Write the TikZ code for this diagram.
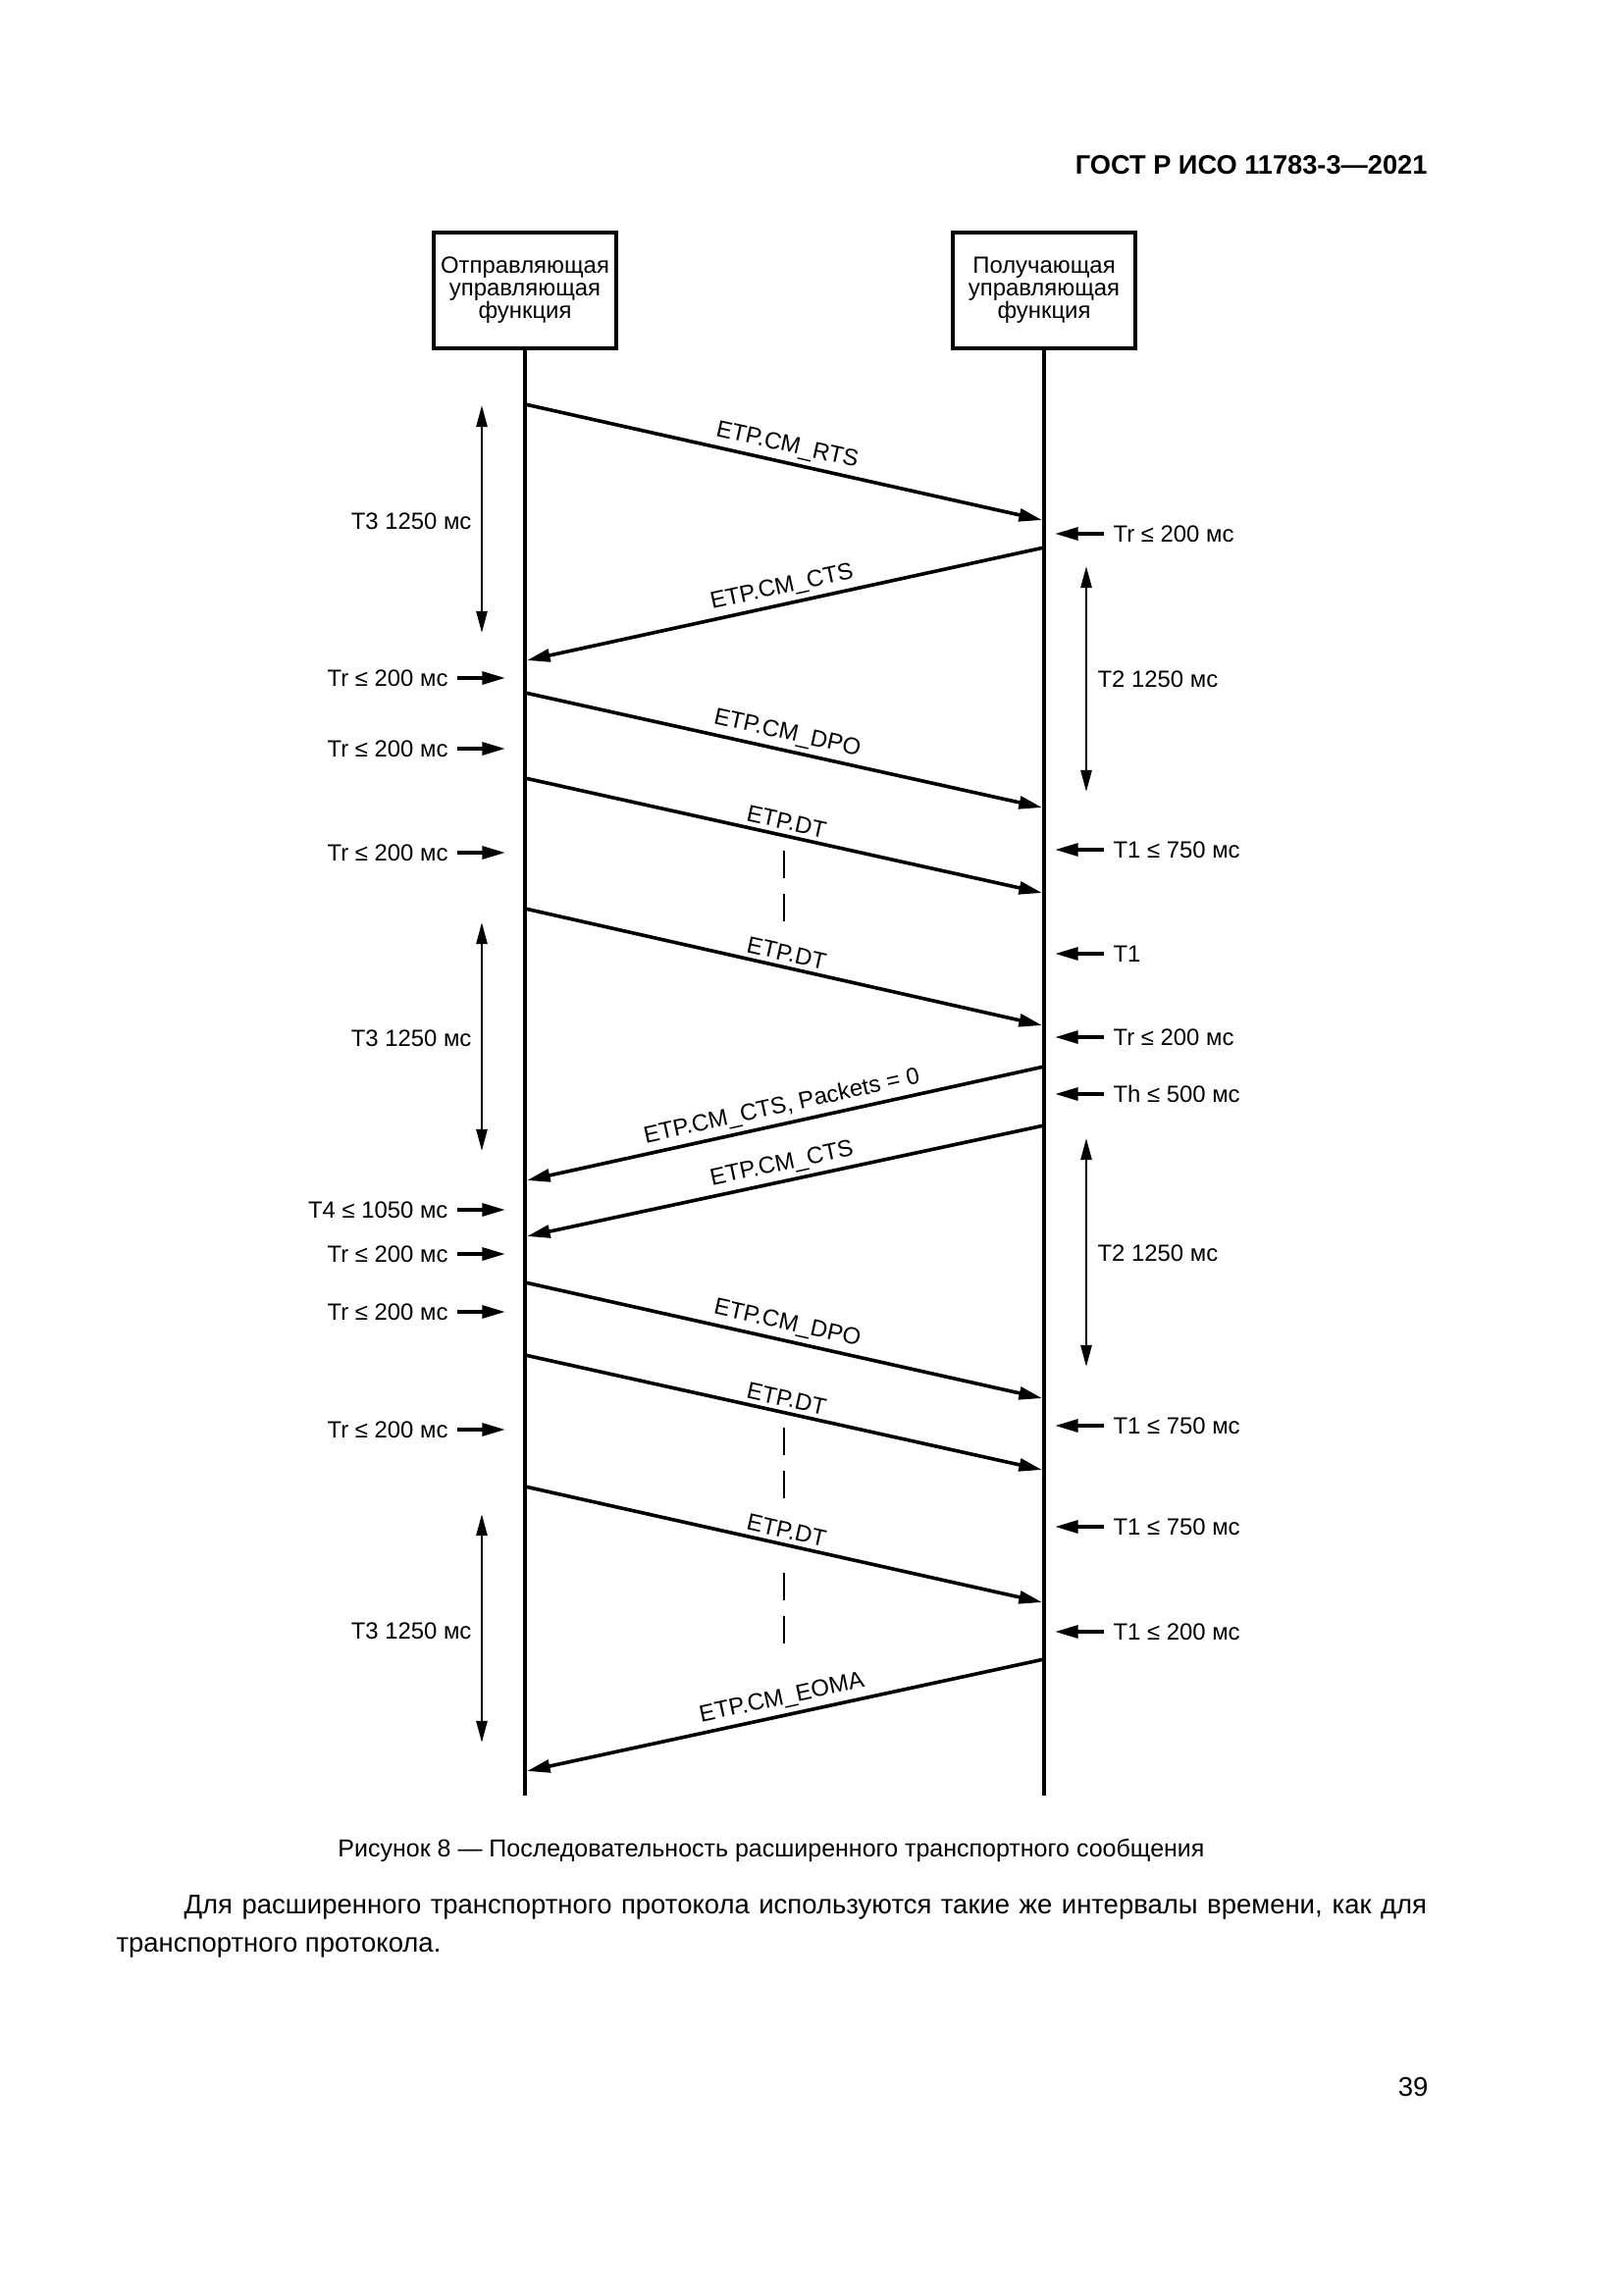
\documentclass[tikz,border=0pt]{standalone}
\usepackage{fontspec}
\setmainfont{Liberation Sans}
\usetikzlibrary{arrows.meta}
\begin{document}
\begin{tikzpicture}[x=0.36pt,y=-0.36pt,
  lifebox/.style={draw, line width=1.2pt, minimum width=67pt, minimum height=42.5pt,
    align=center, inner sep=0pt, font=\fontsize{8.6}{8.3}\selectfont},
  lifeline/.style={line width=1.1pt},
  msg/.style={line width=1.3pt, -{Triangle[length=8.5pt,width=4.6pt]}},
  mlab/.style={font=\fontsize{8.6}{10}\selectfont, sloped, above, inner sep=1.6pt},
  markarrow/.style={line width=1.3pt, -{Triangle[length=8.5pt,width=4.6pt]}},
  tlab/.style={font=\fontsize{8.6}{10}\selectfont, inner sep=0pt},
  spanarrow/.style={line width=0.9pt, {Triangle[length=8pt,width=4pt]}-{Triangle[length=8pt,width=4pt]}},
  dashline/.style={line width=1pt, dash pattern=on 10pt off 5.8pt}
]
\useasboundingbox[fill=white] (0,0) rectangle (1654,2339);

% page texts
\node[anchor=base east, inner sep=0pt, font=\bfseries\fontsize{9.8}{12}\selectfont] (hdr) at (1455,177) {ГОСТ Р ИСО 11783-3—2021};
\node[anchor=base, inner sep=0pt, font=\fontsize{9}{11}\selectfont] (cap) at (786,1892) {Рисунок 8 — Последовательность расширенного транспортного сообщения};
\node[anchor=base west, inner sep=0pt, font=\fontsize{9.9}{12}\selectfont] (body1) at (187,1950) {\makebox[456pt][s]{Для расширенного транспортного протокола используются такие же интервалы времени, как для}};
\node[anchor=base west, inner sep=0pt, font=\fontsize{9.9}{12}\selectfont] (body2) at (118,1989) {транспортного протокола.};
\node[anchor=base east, inner sep=0pt, font=\fontsize{9.9}{12}\selectfont] (pg) at (1456,2136) {39};

% boxes and lifelines
\node[lifebox] (snd) at (535,296) {Отправляющая\\управляющая\\функция};
\node[lifebox] (rcv) at (1064,296) {Получающая\\управляющая\\функция};
\coordinate (sndend) at (535,1830);
\coordinate (rcvend) at (1064,1830);
\draw[lifeline] (snd.south) -- (sndend);
\draw[lifeline] (rcv.south) -- (rcvend);

% messages
\coordinate (m1a) at (535,412);  \coordinate (m1b) at (1062,530);
\coordinate (m2a) at (1064,558); \coordinate (m2b) at (537,673);
\coordinate (m3a) at (535,706);  \coordinate (m3b) at (1062,823);
\coordinate (m4a) at (535,793);  \coordinate (m4b) at (1062,910);
\coordinate (m5a) at (535,926);  \coordinate (m5b) at (1062,1045);
\coordinate (m6a) at (1064,1087);\coordinate (m6b) at (537,1203);
\coordinate (m7a) at (1064,1147);\coordinate (m7b) at (537,1260);
\coordinate (m8a) at (535,1307); \coordinate (m8b) at (1062,1425);
\coordinate (m9a) at (535,1381); \coordinate (m9b) at (1062,1498);
\coordinate (m10a) at (535,1515);\coordinate (m10b) at (1062,1633);
\coordinate (m11a) at (1064,1691);\coordinate (m11b) at (537,1805);

\draw[msg] (m1a) -- node[mlab] {ETP.CM\_RTS} (m1b);
\draw[msg] (m2a) -- node[mlab] {ETP.CM\_CTS} (m2b);
\draw[msg] (m3a) -- node[mlab] {ETP.CM\_DPO} (m3b);
\draw[msg] (m4a) -- node[mlab] {ETP.DT} (m4b);
\draw[msg] (m5a) -- node[mlab] {ETP.DT} (m5b);
\draw[msg] (m6a) -- node[mlab] {ETP.CM\_CTS, Packets = 0} (m6b);
\draw[msg] (m7a) -- node[mlab] {ETP.CM\_CTS} (m7b);
\draw[msg] (m8a) -- node[mlab] {ETP.CM\_DPO} (m8b);
\draw[msg] (m9a) -- node[mlab] {ETP.DT} (m9b);
\draw[msg] (m10a) -- node[mlab] {ETP.DT} (m10b);
\draw[msg] (m11a) -- node[mlab] {ETP.CM\_EOMA} (m11b);

% dashed continuation marks
\coordinate (d1a) at (799,867);  \coordinate (d1b) at (799,939);
\coordinate (d2a) at (799,1455); \coordinate (d2b) at (799,1527);
\coordinate (d3a) at (799,1603); \coordinate (d3b) at (799,1677);
\draw[dashline] (d1a) -- (d1b);
\draw[dashline] (d2a) -- (d2b);
\draw[dashline] (d3a) -- (d3b);

% left timing markers
\foreach \n/\y/\t in {1/691/Tr ≤ 200 мс, 2/763/Tr ≤ 200 мс, 3/869/Tr ≤ 200 мс,
  4/1233/T4 ≤ 1050 мс, 5/1278/Tr ≤ 200 мс, 6/1337/Tr ≤ 200 мс, 7/1457/Tr ≤ 200 мс}{
  \node[tlab, anchor=east] (ll\n) at (457,\y) {\t};
  \coordinate (lt\n) at (515,\y);
  \draw[markarrow] ([xshift=3.2pt]ll\n.east) -- (lt\n);
}

% right timing markers
\foreach \n/\y/\t in {1/544/Tr ≤ 200 мс, 2/866/T1 ≤ 750 мс, 3/972/T1, 4/1057/Tr ≤ 200 мс,
  5/1115/Th ≤ 500 мс, 6/1453/T1 ≤ 750 мс, 7/1556/T1 ≤ 750 мс, 8/1663/T1 ≤ 200 мс}{
  \node[tlab, anchor=west] (rl\n) at (1134,\y) {\t};
  \coordinate (rt\n) at (1075,\y);
  \draw[markarrow] ([xshift=-3.2pt]rl\n.west) -- (rt\n);
}

% span arrows
\coordinate (s1a) at (491,413);  \coordinate (s1b) at (491,645);
\coordinate (s2a) at (491,940);  \coordinate (s2b) at (491,1173);
\coordinate (s3a) at (491,1543); \coordinate (s3b) at (491,1776);
\coordinate (s4a) at (1107,577); \coordinate (s4b) at (1107,807);
\coordinate (s5a) at (1107,1160);\coordinate (s5b) at (1107,1393);
\draw[spanarrow] (s1a) -- (s1b);
\draw[spanarrow] (s2a) -- (s2b);
\draw[spanarrow] (s3a) -- (s3b);
\draw[spanarrow] (s4a) -- (s4b);
\draw[spanarrow] (s5a) -- (s5b);
\node[tlab, anchor=east] (sl1) at (481,531) {T3 1250 мс};
\node[tlab, anchor=east] (sl2) at (481,1058) {T3 1250 мс};
\node[tlab, anchor=east] (sl3) at (481,1662) {T3 1250 мс};
\node[tlab, anchor=west] (sl4) at (1118,692) {T2 1250 мс};
\node[tlab, anchor=west] (sl5) at (1118,1277) {T2 1250 мс};
\end{tikzpicture}
\end{document}
